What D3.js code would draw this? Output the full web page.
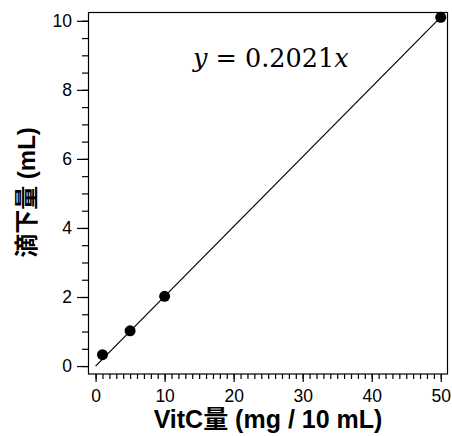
<!DOCTYPE html>
<html>
<head>
<meta charset="utf-8">
<script src="https://cdn.jsdelivr.net/npm/d3@7"></script>
<style>
  body { margin: 0; background: #fff; }
  svg { display: block; }
  .tick text { font-family: "Liberation Sans", Arial, sans-serif; }
</style>
</head>
<body>
<div id="chart"></div>
<script>
'use strict';

// measured points
const vitc = [1, 5, 10, 50];
const drop = [0.33, 1.02, 2.02, 10.1];
const slope = 0.2021;
const fitRange = [0, 50];

const xTicks = [0, 10, 20, 30, 40, 50];
const yTicks = [0, 2, 4, 6, 8, 10];

const width = 452, height = 436;
const margin = { top: 12.5, right: 4, bottom: 62, left: 88 };

const svg = d3.select('#chart').append('svg')
  .attr('width', width)
  .attr('height', height);

const x = d3.scaleLinear()
  .domain([-1.1, 51.05])
  .range([margin.left, width - margin.right]);

const y = d3.scaleLinear()
  .domain([-0.23, 10.24])
  .range([height - margin.bottom, margin.top]);

const plotW = width - margin.left - margin.right;
const plotH = height - margin.top - margin.bottom;

// frame
svg.append('rect')
  .attr('x', margin.left + 0.5)
  .attr('y', margin.top)
  .attr('width', plotW - 1)
  .attr('height', plotH)
  .attr('fill', 'none')
  .attr('stroke', '#000')
  .attr('stroke-width', 1.2);

// minor ticks
svg.append('g')
  .attr('transform', 'translate(0,' + (height - margin.bottom) + ')')
  .call(d3.axisBottom(x).tickValues(d3.range(0, 51, 1)).tickSize(5).tickFormat(''))
  .call(g => g.select('.domain').remove());

svg.append('g')
  .attr('transform', 'translate(' + margin.left + ',0)')
  .call(d3.axisLeft(y).tickValues(d3.range(0, 10.01, 0.5)).tickSize(6).tickFormat(''))
  .call(g => g.select('.domain').remove());

// major ticks
svg.append('g')
  .attr('transform', 'translate(0,' + (height - margin.bottom) + ')')
  .call(d3.axisBottom(x).tickValues(xTicks).tickSize(8).tickPadding(8))
  .call(g => g.select('.domain').remove())
  .call(g => g.selectAll('text').attr('font-size', 17.5));

svg.append('g')
  .attr('transform', 'translate(' + margin.left + ',0)')
  .call(d3.axisLeft(y).tickValues(yTicks).tickSize(11).tickPadding(5))
  .call(g => g.select('.domain').remove())
  .call(g => g.selectAll('text').attr('font-size', 17.5));

svg.selectAll('.tick line').attr('stroke-width', 1.2);

// fit line
svg.append('line')
  .attr('x1', x(fitRange[0]))
  .attr('y1', y(slope * fitRange[0]))
  .attr('x2', x(fitRange[1]))
  .attr('y2', y(slope * fitRange[1]))
  .attr('stroke', '#000')
  .attr('stroke-width', 1.2);

// points
svg.selectAll('.pt')
  .data(vitc)
  .join('circle')
  .attr('class', 'pt')
  .attr('cx', d => x(d))
  .attr('cy', (d, i) => y(drop[i]))
  .attr('r', 5.5)
  .attr('fill', '#000');

// equation
const eq = svg.append('text')
  .attr('x', 193)
  .attr('y', 67)
  .attr('font-family', '"DejaVu Serif", "Liberation Serif", serif')
  .attr('font-size', 25.5);
eq.append('tspan').attr('font-style', 'italic').text('y');
eq.append('tspan').text(' = 0.2021');
eq.append('tspan').attr('font-style', 'italic').text('x');

// axis titles
svg.append('text')
  .attr('x', 268)
  .attr('y', 428)
  .attr('text-anchor', 'middle')
  .attr('font-family', '"Liberation Sans", "Noto Sans CJK JP", sans-serif')
  .attr('font-weight', 'bold')
  .attr('font-size', 25)
  .text('VitC量 (mg / 10 mL)');

svg.append('text')
  .attr('transform', 'translate(35,192.5) rotate(-90)')
  .attr('text-anchor', 'middle')
  .attr('font-family', '"Liberation Sans", "Noto Sans CJK JP", sans-serif')
  .attr('font-weight', 'bold')
  .attr('font-size', 24)
  .text('滴下量 (mL)');
</script>
</body>
</html>
